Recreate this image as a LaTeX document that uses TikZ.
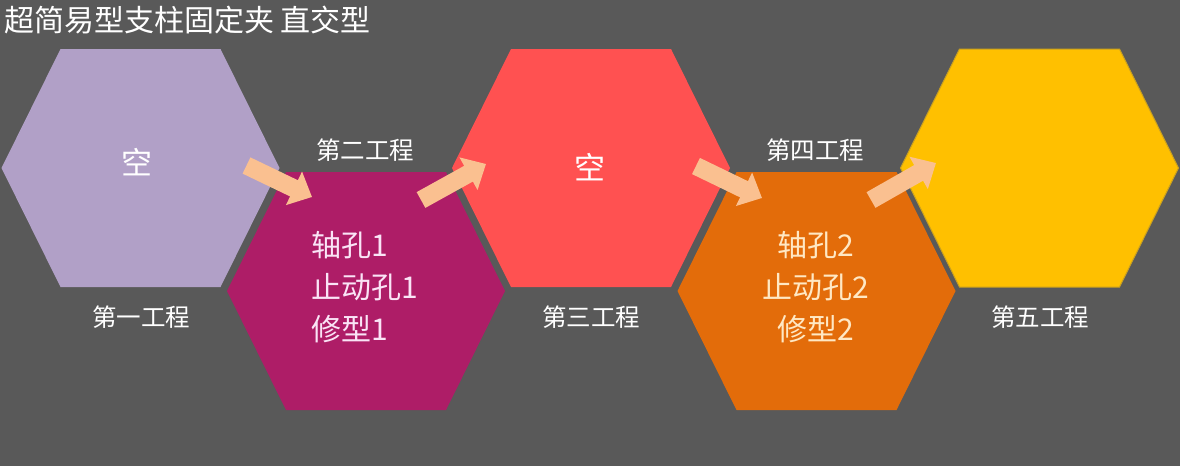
\documentclass[tikz,border=0pt]{standalone}
\usepackage{fontspec}
\setmainfont{Noto Sans CJK SC}
\usetikzlibrary{arrows.meta}
\definecolor{bgc}{HTML}{595959}
\definecolor{hexa}{HTML}{B1A0C7}
\definecolor{hexb}{HTML}{AE1D67}
\definecolor{hexc}{HTML}{FF5151}
\definecolor{hexd}{HTML}{E36C0A}
\definecolor{hexe}{HTML}{FFC000}
\definecolor{hexeedge}{HTML}{C9A020}
\definecolor{arrowc}{HTML}{FAC090}
\definecolor{pinktext}{RGB}{250,228,246}
\definecolor{creamtext}{RGB}{255,232,196}
\newcommand\myhex[3]{\fill[#3] ({#1-139},#2) -- ({#1-80},{#2-119}) -- ({#1+80},{#2-119}) -- ({#1+139},#2) -- ({#1+80},{#2+119}) -- ({#1-80},{#2+119}) -- cycle;}
\begin{document}
\begin{tikzpicture}[x=1pt,y=-1pt,
  steplabel/.style={text=white,inner sep=0pt,font=\fontsize{24.5}{27}\selectfont},
  emptylabel/.style={text=white,inner sep=0pt,font=\fontsize{31}{34}\selectfont},
  worklabel/.style={inner sep=0pt,font=\fontsize{30}{42}\selectfont},
  flowarrow/.style={draw=arrowc,line width=18pt,-{Triangle[length=20pt,width=36pt]}}]
\fill[bgc] (0,0) rectangle (1180,466);
\useasboundingbox (0,0) rectangle (1180,466);
\myhex{140.5}{168}{hexa}
\myhex{366}{291}{hexb}
\myhex{591}{168}{hexc}
\myhex{816.5}{291}{hexd}
\myhex{1039.5}{168}{hexe,draw=hexeedge,line width=1pt}
\node[anchor=west,text=white,inner sep=0pt,font=\fontsize{30}{32}\selectfont] (title) at (4,20) {超简易型支柱固定夹 直交型};
\node[emptylabel] (h1) at (137,162) {空};
\node[emptylabel] (h3) at (590,167) {空};
\node[worklabel,text=pinktext,align=left,anchor=west] (h2) at (311,287) {轴孔1\\止动孔1\\修型1};
\node[worklabel,text=creamtext,align=center] (h4) at (816,287) {轴孔2\\止动孔2\\修型2};
\coordinate (h5) at (1039.5,168);
\node[steplabel] (l1) at (141,317) {第一工程};
\node[steplabel] (l2) at (365,150) {第二工程};
\node[steplabel] (l3) at (591,317) {第三工程};
\node[steplabel] (l4) at (815,150) {第四工程};
\node[steplabel] (l5) at (1040,317) {第五工程};
\coordinate (a1s) at (246.5,165.5);
\coordinate (a1e) at (312,197);
\coordinate (a2s) at (421,200);
\coordinate (a2e) at (486,164);
\coordinate (a3s) at (696,166);
\coordinate (a3e) at (762,198);
\coordinate (a4s) at (871,200);
\coordinate (a4e) at (936,163);
\draw[flowarrow] (a1s) -- (a1e);
\draw[flowarrow] (a2s) -- (a2e);
\draw[flowarrow] (a3s) -- (a3e);
\draw[flowarrow] (a4s) -- (a4e);
\end{tikzpicture}
\end{document}
